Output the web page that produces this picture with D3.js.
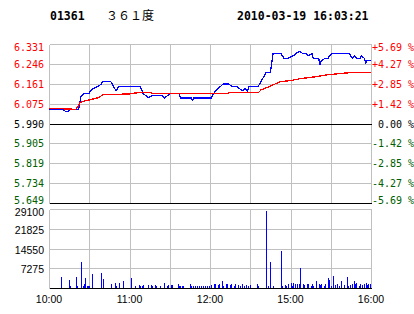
<!DOCTYPE html>
<html>
<head>
<meta charset="utf-8">
<script src="https://cdn.jsdelivr.net/npm/d3@7"></script>
<style>
  body { margin: 0; background: #fff; }
  svg { display: block; }
</style>
</head>
<body>
<svg id="chart" width="414" height="314"></svg>
<script>
// header
const stockCode = "01361";
const stockName = "３６１度";
const stamp = "2010-03-19 16:03:21";

// axes
const prevClose = 5.990;
const priceTicks = [6.331, 6.246, 6.161, 6.075, 5.990, 5.905, 5.819, 5.734, 5.649];
const pctTicks = ["+5.69", "+4.27", "+2.85", "+1.42", " 0.00", "-1.42", "-2.85", "-4.27", "-5.69"];
const volTicks = [29100, 21825, 14550, 7275, 0];
const timeSlots = [0, 60, 120, 180, 240];
const timeLabels = ["10:00", "11:00", "12:00", "15:00", "16:00"];

// [minute slot, price]
const price = [
  [0,6.05],[10,6.05],[13,6.04],[14,6.04],[16,6.05],[18,6.05],[22,6.05],[23,6.08],[24,6.11],
  [27,6.12],[30,6.12],[31,6.13],[33,6.14],[37,6.15],[39,6.16],[40,6.17],[46,6.17],[47,6.16],
  [50,6.13],[52,6.15],[68,6.15],[70,6.12],[74,6.10],[77,6.11],[84,6.11],[86,6.10],[91,6.12],
  [97,6.12],[98,6.10],[106,6.10],[107,6.09],[108,6.10],[121,6.10],[124,6.13],[126,6.14],
  [130,6.16],[134,6.16],[136,6.15],[140,6.15],[142,6.14],[144,6.13],[146,6.14],[148,6.13],
  [149,6.15],[156,6.15],[158,6.17],[161,6.20],[162,6.21],[165,6.21],[167,6.29],[173,6.29],
  [175,6.27],[178,6.27],[182,6.28],[184,6.29],[187,6.30],[189,6.29],[192,6.29],[193,6.28],
  [196,6.29],[197,6.27],[201,6.27],[202,6.24],[203,6.26],[206,6.27],[208,6.27],[209,6.28],
  [211,6.29],[224,6.29],[226,6.27],[228,6.28],[229,6.27],[232,6.27],[233,6.28],[235,6.27],
  [236,6.25],[237,6.26],[240,6.26]
];

// [minute slot, average price]
const avgPrice = [
  [0,6.053],[10,6.053],[20,6.051],[22,6.066],[23,6.080],[27,6.087],[32,6.094],[37,6.101],
  [40,6.113],[60,6.117],[66,6.122],[76,6.122],[77,6.118],[133,6.118],[134,6.122],[156,6.122],
  [158,6.134],[161,6.141],[165,6.150],[172,6.169],[180,6.174],[187,6.182],[198,6.190],
  [209,6.200],[224,6.208],[240,6.210]
];

// [minute slot, volume]
const volume = [
  [9,4200],[15,3100],[16,900],[20,4200],[21,900],[24,9700],[25,900],[26,1300],[27,3700],
  [28,800],[29,800],[30,800],[32,5300],[39,5700],[40,3400],[46,1600],[49,2000],[50,900],
  [52,2000],[55,2400],[61,3800],[64,900],[67,1200],[68,900],[69,900],[70,1000],[74,1200],
  [76,1200],[77,900],[79,1200],[80,900],[83,900],[86,2000],[88,900],[89,1200],[91,1200],
  [92,1000],[96,1300],[97,900],[98,900],[99,900],[100,900],[105,1600],[106,900],[107,900],
  [109,900],[110,900],[112,900],[113,900],[115,900],[116,900],[118,900],[119,900],
  [121,1200],[123,1600],[124,1600],[126,1200],[127,1600],[129,2700],[130,900],[132,1300],
  [133,1600],[135,1200],[136,1600],[138,900],[139,1300],[141,1200],[142,900],[144,1300],
  [145,900],[147,1200],[148,900],[150,1200],[155,1600],[156,600],[162,28400],[163,900],
  [165,9400],[167,900],[173,13800],[174,900],[176,1200],[177,900],[178,1600],[180,2000],
  [181,900],[182,2000],[183,1600],[185,1300],[186,1600],[187,7400],[189,1600],[190,1200],
  [192,1600],[193,1300],[195,900],[196,1300],[197,900],[199,2400],[201,1600],[202,1200],
  [203,1600],[205,900],[206,1300],[208,3500],[209,3000],[210,900],[212,4600],[213,1200],
  [215,1600],[216,900],[218,2400],[220,1200],[222,4200],[223,900],[224,1200],[226,1600],
  [227,2400],[228,1600],[229,2000],[231,900],[232,1600],[233,1200],[235,1600],[236,2000],
  [237,1200],[238,1600],[239,1600]
];

const red = "#ff0000", green = "#006000", grid = "#c0c0c0";
const mono = "'DejaVu Sans Mono', monospace";
const sans = "'Liberation Sans', Arial, sans-serif";

const x = d3.scaleLinear().domain([0, 240]).range([49, 371]);
const yP = d3.scaleLinear().domain([5.649, 6.331]).range([203, 44]);
const yV = d3.scaleLinear().domain([0, 29100]).range([288, 209]);
const px = v => Math.round(v) + 0.5;

const svg = d3.select('#chart');
const g = svg.append('g').attr('shape-rendering', 'crispEdges');

// header
svg.append('text').attr('x', 50).attr('y', 20)
  .attr('font-family', mono).attr('font-weight', 'bold').attr('font-size', 11.5)
  .text(stockCode);
svg.append('text').attr('x', 106).attr('y', 20)
  .attr('font-family', "'Noto Sans CJK SC', sans-serif").attr('font-size', 12)
  .text(stockName);
svg.append('text').attr('x', 237).attr('y', 20)
  .attr('font-family', mono).attr('font-weight', 'bold').attr('font-size', 11.5)
  .text(stamp);

// vertical grid, both panels
const vSlots = d3.range(0, 241, 30);
g.selectAll('.vgp').data(vSlots).enter().append('line')
  .attr('x1', d => px(x(d))).attr('x2', d => px(x(d)))
  .attr('y1', px(yP(6.331))).attr('y2', px(yP(5.649)))
  .attr('stroke', grid);
g.selectAll('.vgv').data(vSlots).enter().append('line')
  .attr('x1', d => px(x(d))).attr('x2', d => px(x(d)))
  .attr('y1', px(yV(29100))).attr('y2', px(yV(0)))
  .attr('stroke', grid);

// horizontal grid, price panel
g.selectAll('.hgp').data(priceTicks).enter().append('line')
  .attr('x1', px(x(0))).attr('x2', px(x(240)))
  .attr('y1', d => px(yP(d))).attr('y2', d => px(yP(d)))
  .attr('stroke', d => (d === prevClose || d === 5.649) ? '#000' : grid);

// horizontal grid, volume panel
g.selectAll('.hgv').data(volTicks).enter().append('line')
  .attr('x1', px(x(0))).attr('x2', px(x(240)))
  .attr('y1', d => px(yV(d))).attr('y2', d => px(yV(d)))
  .attr('stroke', d => d === 0 ? '#000' : grid);

const tone = v => v > prevClose + 1e-9 ? red : (v < prevClose - 1e-9 ? green : '#000');
const nudge = (i, n) => i === 0 ? 3 : (i === n - 1 ? -3 : 0);

// left price labels
svg.selectAll('.pl').data(priceTicks).enter().append('text')
  .attr('x', 44).attr('y', (d, i) => yP(d) + 4 + nudge(i, priceTicks.length))
  .attr('text-anchor', 'end')
  .attr('font-family', mono).attr('font-size', 10)
  .attr('fill', tone)
  .text(d => d.toFixed(3));

// right percent labels
svg.selectAll('.rl').data(pctTicks).enter().append('text')
  .attr('x', 372).attr('y', (d, i) => yP(priceTicks[i]) + 4 + nudge(i, pctTicks.length))
  .attr('font-family', mono).attr('font-size', 10)
  .attr('fill', (d, i) => tone(priceTicks[i]))
  .style('white-space', 'pre')
  .text(d => d + ' %');

// volume labels
svg.selectAll('.vl').data(volTicks.filter(d => d > 0)).enter().append('text')
  .attr('x', 44).attr('y', (d, i) => yV(d) + 4 + (i === 0 ? 2.5 : 1))
  .attr('text-anchor', 'end')
  .attr('font-family', sans).attr('font-size', 10.5)
  .text(d => d);

// time labels
svg.selectAll('.tl').data(timeSlots).enter().append('text')
  .attr('x', d => x(d)).attr('y', 303)
  .attr('text-anchor', 'middle')
  .attr('font-family', sans).attr('font-size', 10.5)
  .text((d, i) => timeLabels[i]);

// volume bars
g.selectAll('.bar').data(volume).enter().append('rect')
  .attr('x', d => Math.round(x(d[0])))
  .attr('width', 1)
  .attr('y', d => yV(d[1]))
  .attr('height', d => yV(0) - yV(d[1]))
  .attr('fill', '#0000ff');

// price and average lines, aliased like the original bitmap
const line = d3.line().x(d => x(d[0])).y(d => yP(d[1]));
svg.append('path').attr('d', line(price))
  .attr('fill', 'none').attr('stroke', '#0000ff').attr('stroke-width', 1.3)
  .attr('shape-rendering', 'crispEdges');
svg.append('path').attr('d', line(avgPrice))
  .attr('fill', 'none').attr('stroke', red).attr('stroke-width', 1.3)
  .attr('shape-rendering', 'crispEdges');
</script>
</body>
</html>
